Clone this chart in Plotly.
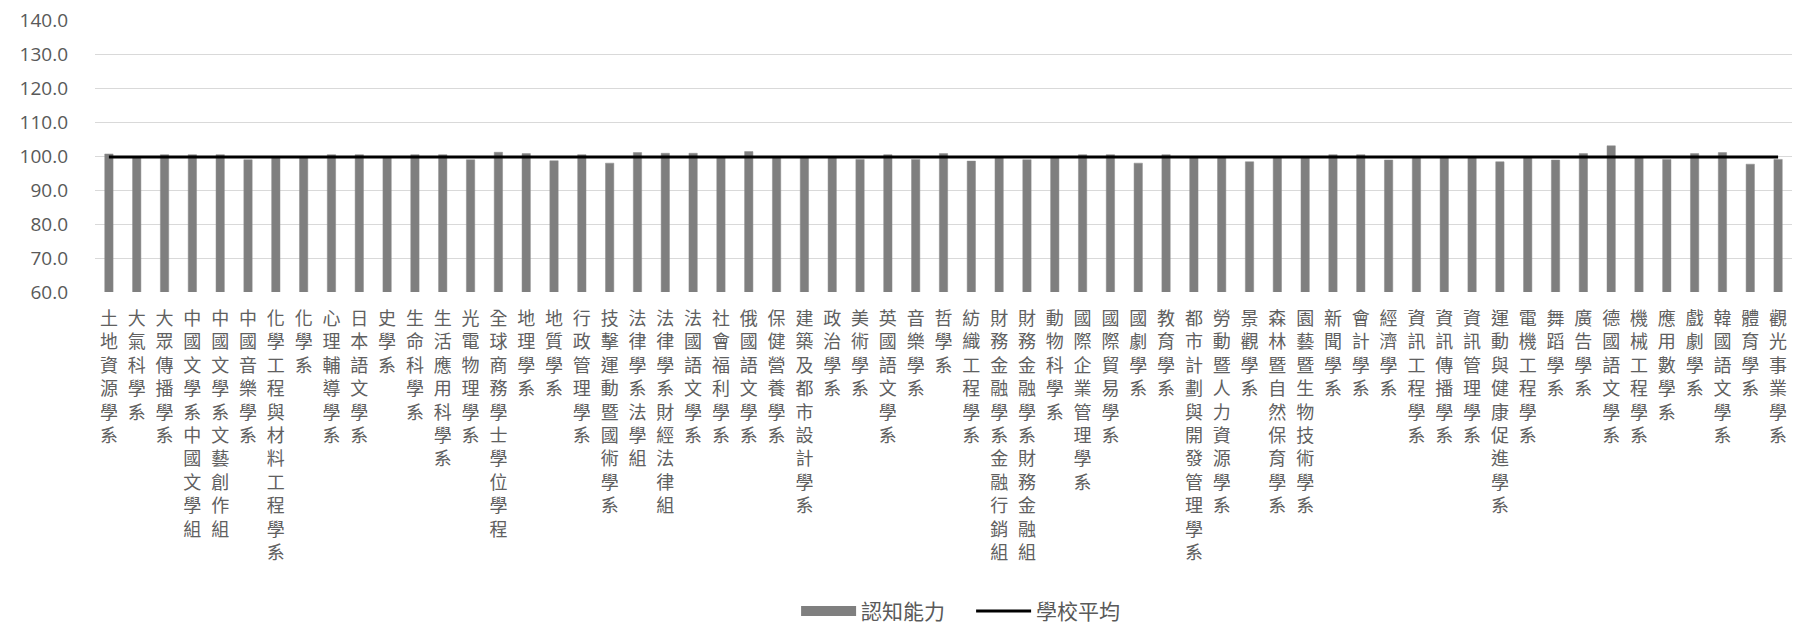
import plotly.graph_objects as go

departments = [
    "土地資源學系", "大氣科學系", "大眾傳播學系", "中國文學系中國文學組", "中國文學系文藝創作組",
    "中國音樂學系", "化學工程與材料工程學系", "化學系", "心理輔導學系", "日本語文學系",
    "史學系", "生命科學系", "生活應用科學系", "光電物理學系", "全球商務學士學位學程",
    "地理學系", "地質學系", "行政管理學系", "技擊運動暨國術學系", "法律學系法學組",
    "法律學系財經法律組", "法國語文學系", "社會福利學系", "俄國語文學系", "保健營養學系",
    "建築及都市設計學系", "政治學系", "美術學系", "英國語文學系", "音樂學系",
    "哲學系", "紡織工程學系", "財務金融學系金融行銷組", "財務金融學系財務金融組", "動物科學系",
    "國際企業管理學系", "國際貿易學系", "國劇學系", "教育學系", "都市計劃與開發管理學系",
    "勞動暨人力資源學系", "景觀學系", "森林暨自然保育學系", "園藝暨生物技術學系", "新聞學系",
    "會計學系", "經濟學系", "資訊工程學系", "資訊傳播學系", "資訊管理學系",
    "運動與健康促進學系", "電機工程學系", "舞蹈學系", "廣告學系", "德國語文學系",
    "機械工程學系", "應用數學系", "戲劇學系", "韓國語文學系", "體育學系",
    "觀光事業學系",
]

cognitive = [
    100.6, 99.7, 100.4, 100.4, 100.4,
    98.9, 99.6, 99.8, 100.4, 100.4,
    99.7, 100.4, 100.4, 98.9, 101.1,
    100.7, 98.6, 100.4, 97.9, 101.0,
    100.8, 100.8, 99.7, 101.3, 99.6,
    99.7, 99.5, 99.0, 100.4, 99.0,
    100.7, 98.5, 99.7, 98.9, 99.7,
    100.4, 100.4, 97.9, 100.4, 99.7,
    99.7, 98.3, 99.7, 99.7, 100.4,
    100.4, 98.8, 99.7, 99.7, 99.6,
    98.3, 99.8, 98.8, 100.7, 103.0,
    99.7, 99.0, 100.7, 101.0, 97.6,
    99.0,
]

school_average = 99.7

y_ticks = [60, 70, 80, 90, 100, 110, 120, 130, 140]

tick_text = ["<br>".join(list(d)) for d in departments]

BAR_COLOR = "#7F7F7F"

fig = go.Figure()
fig.add_trace(go.Bar(
    x=departments, y=cognitive, name="認知能力", showlegend=False,
    marker=dict(color=BAR_COLOR, line=dict(color="#8C8C8C", width=0.5)),
))
# legend swatch for the bar series (wide rectangle like the original)
fig.add_trace(go.Scatter(
    x=[None], y=[None], name="認知能力", mode="lines",
    line=dict(color=BAR_COLOR, width=15),
))
fig.add_trace(go.Scatter(
    x=departments, y=[school_average] * len(departments), name="學校平均",
    mode="lines", line=dict(color="#000000", width=3),
))

fig.update_layout(
    width=1795, height=625,
    margin=dict(l=95, r=3, t=20, b=333),
    plot_bgcolor="white", paper_bgcolor="white",
    bargap=0.70,
    showlegend=True,
    legend=dict(
        orientation="h", xref="container", yref="container",
        x=0.541, y=0.022, xanchor="center", yanchor="middle",
        font=dict(family="Noto Sans CJK TC", size=21, color="#595959"),
        itemwidth=55, entrywidth=105,
    ),
    font=dict(family="Noto Sans CJK TC", color="#595959"),
)
fig.update_xaxes(
    type="category", tickmode="array", tickvals=departments, ticktext=tick_text,
    tickangle=0, showgrid=False, showline=False, ticks="",
    tickfont=dict(family="Noto Sans CJK TC", size=18, color="#606060"),
    ticklabelstandoff=14,
)
fig.update_yaxes(
    range=[60, 140], tickvals=y_ticks, tickformat=".1f",
    showgrid=True, gridcolor="#D9D9D9", gridwidth=1.3,
    zeroline=False, showline=False,
    tickfont=dict(family="Open Sans", size=19, color="#595959"),
    ticklabelstandoff=26,
)

fig.write_html("out.html", config={"displayModeBar": False},
               post_script="document.body.style.margin='0px';")
